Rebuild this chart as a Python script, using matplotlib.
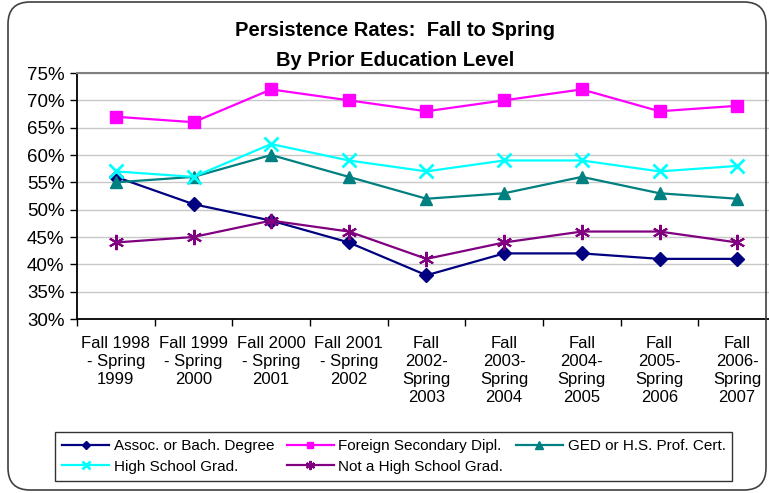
import matplotlib
matplotlib.use("Agg")
import matplotlib.pyplot as plt
from matplotlib.patches import FancyBboxPatch
from matplotlib.ticker import FixedLocator, PercentFormatter
from matplotlib import font_manager

categories = ["Fall 1998\n- Spring\n1999", "Fall 1999\n- Spring\n2000", "Fall 2000\n- Spring\n2001",
              "Fall 2001\n- Spring\n2002", "Fall\n2002-\nSpring\n2003", "Fall\n2003-\nSpring\n2004",
              "Fall\n2004-\nSpring\n2005", "Fall\n2005-\nSpring\n2006", "Fall\n2006-\nSpring\n2007"]
assoc = [56, 51, 48, 44, 38, 42, 42, 41, 41]
foreign = [67, 66, 72, 70, 68, 70, 72, 68, 69]
ged = [55, 56, 60, 56, 52, 53, 56, 53, 52]
hs_grad = [57, 56, 62, 59, 57, 59, 59, 57, 58]
not_hs = [44, 45, 48, 46, 41, 44, 46, 46, 44]
y_ticks = [30, 35, 40, 45, 50, 55, 60, 65, 70, 75]

names = {f.name for f in font_manager.fontManager.ttflist}
narrow = "Liberation Sans Narrow" if "Liberation Sans Narrow" in names else "Liberation Sans"
plt.rcParams['font.family'] = ["Liberation Sans", "DejaVu Sans"]

fig = plt.figure(figsize=(7.69, 4.93), dpi=100)
ax = fig.add_axes([77/769, 1-319/493, (776-77)/769, (319-73)/493])

x = list(range(len(categories)))
series = [
    ("Assoc. or Bach. Degree", assoc, "#000080", "D", 7, None),
    ("Foreign Secondary Dipl.", foreign, "#FF00FF", "s", 8, None),
    ("GED or H.S. Prof. Cert.", ged, "#008080", "^", 9, None),
    ("High School Grad.", hs_grad, "#00FFFF", "x", 10, 2),
    ("Not a High School Grad.", not_hs, "#800080", (6, 2, 0), 11, 1.5),
]
lines = {}
for name, vals, col, mk, ms, mew in series:
    kw = dict(color=col, marker=mk, markersize=ms, linewidth=1.6, label=name,
              markerfacecolor=col, markeredgecolor=col, clip_on=False, zorder=3)
    if mew:
        kw['markeredgewidth'] = mew
    lines[name] = ax.plot(x, vals, **kw)[0]

ax.set_xlim(-0.5, len(categories) - 0.5)
ax.set_ylim(30, 75)
ax.yaxis.set_major_locator(FixedLocator(y_ticks))
ax.yaxis.set_major_formatter(PercentFormatter(decimals=0))
ax.grid(axis='y', color='#C8C8C8', linewidth=1)
ax.set_axisbelow(True)
ax.set_xticks(x)
ax.set_xticklabels(categories, fontsize=12, family=narrow, linespacing=1.25)
ax.set_xticks([i - 0.5 for i in range(len(categories) + 1)], minor=True)
ax.tick_params(axis='x', which='major', length=0, pad=12)
ax.tick_params(axis='x', which='minor', length=5, width=1, color='black', direction='out')
ax.tick_params(axis='y', labelsize=13.5, length=5, width=1, direction='out', pad=4)
for s in ['left', 'bottom']:
    ax.spines[s].set_color('black')
    ax.spines[s].set_linewidth(1.3)
ax.spines['top'].set_color('#808080')
ax.spines['top'].set_linewidth(1.5)
ax.spines['right'].set_visible(False)

fig.text(0.514, 1-31/493, "Persistence Rates:  Fall to Spring", ha='center', va='center',
         fontsize=14.5, fontweight='bold')
fig.text(0.514, 1-60/493, "By Prior Education Level", ha='center', va='center',
         fontsize=14.5, fontweight='bold')

order = ["Assoc. or Bach. Degree", "High School Grad.", "Foreign Secondary Dipl.",
         "Not a High School Grad.", "GED or H.S. Prof. Cert."]
leg = fig.legend([lines[n] for n in order], order, ncol=3, loc='upper left',
                 bbox_to_anchor=(55/769, 1-432/493),
                 fontsize=11, frameon=True, fancybox=False, handlelength=3.1,
                 handletextpad=0.3, columnspacing=0.8, borderaxespad=0, borderpad=0.45,
                 labelspacing=0.45, markerscale=0.6)
leg.get_frame().set_edgecolor('black')
leg.get_frame().set_linewidth(1)

border = FancyBboxPatch((0.08, 0.03), 7.58, 4.88, boxstyle="round,pad=0,rounding_size=0.22",
                        transform=fig.dpi_scale_trans, facecolor='none', edgecolor='#404040',
                        linewidth=1.2, clip_on=False)
fig.patches.append(border)

fig.savefig("out.png", dpi=100)
